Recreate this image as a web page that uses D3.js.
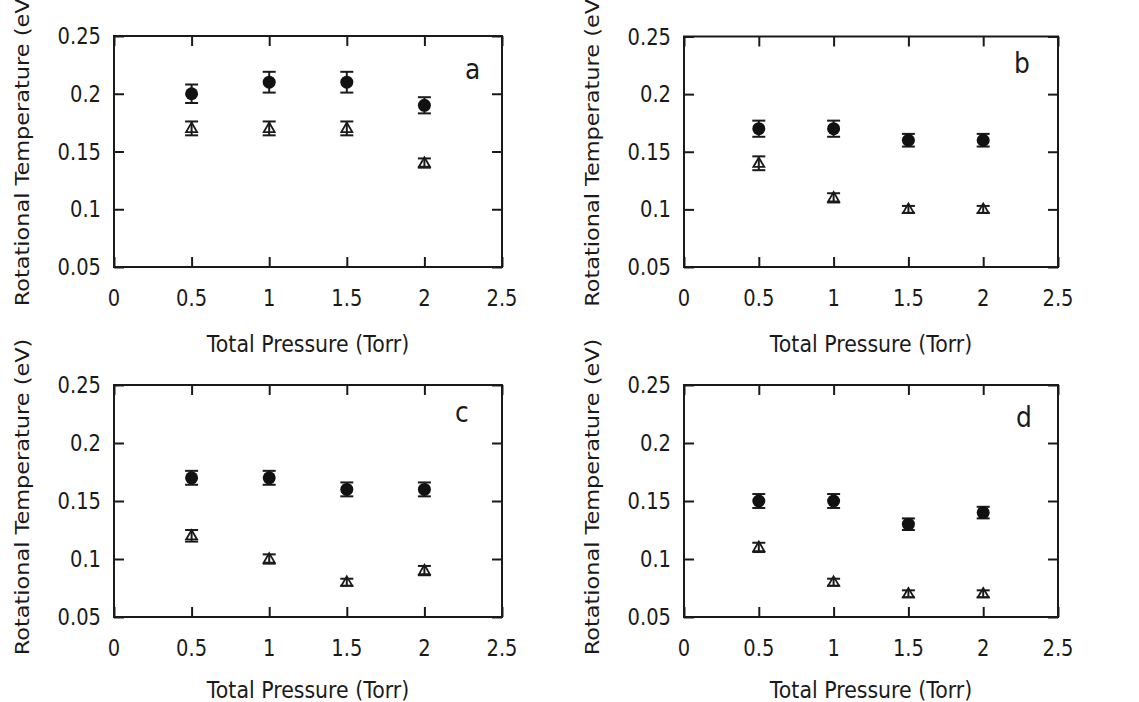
<!DOCTYPE html>
<html>
<head>
<meta charset="utf-8">
<script src="https://cdn.jsdelivr.net/npm/d3@7"></script>
<style>
  html, body { margin: 0; padding: 0; background: #fff; }
  svg { display: block; }
  text { font-family: "DejaVu Sans", Verdana, sans-serif; fill: #1a1a1a; }
</style>
</head>
<body>
<svg id="chart" width="1139" height="702"></svg>
<script>
// ---------------- data ----------------
const pressure = [0.5, 1, 1.5, 2];
const xTickValues = [0, 0.5, 1, 1.5, 2, 2.5];
const yTickValues = [0.05, 0.1, 0.15, 0.2, 0.25];
const panelLabels = ["a", "b", "c", "d"];
const xTitle = "Total Pressure (Torr)";
const yTitle = "Rotational Temperature (eV)";

const circA = [0.20, 0.21, 0.21, 0.19];
const circAErr = [0.008, 0.009, 0.009, 0.007];
const triA = [0.17, 0.17, 0.17, 0.14];
const triAErr = [0.006, 0.006, 0.006, 0.004];

const circB = [0.17, 0.17, 0.16, 0.16];
const circBErr = [0.007, 0.007, 0.0055, 0.0055];
const triB = [0.14, 0.11, 0.10, 0.10];
const triBErr = [0.006, 0.004, 0.003, 0.003];

const circC = [0.17, 0.17, 0.16, 0.16];
const circCErr = [0.006, 0.006, 0.006, 0.006];
const triC = [0.12, 0.10, 0.08, 0.09];
const triCErr = [0.005, 0.004, 0.003, 0.004];

const circD = [0.15, 0.15, 0.13, 0.14];
const circDErr = [0.006, 0.006, 0.005, 0.005];
const triD = [0.11, 0.08, 0.07, 0.07];
const triDErr = [0.004, 0.003, 0.003, 0.003];

const seriesByPanel = [
  { circ: circA, circErr: circAErr, tri: triA, triErr: triAErr },
  { circ: circB, circErr: circBErr, tri: triB, triErr: triBErr },
  { circ: circC, circErr: circCErr, tri: triC, triErr: triCErr },
  { circ: circD, circErr: circDErr, tri: triD, triErr: triDErr }
];

// ---------------- layout ----------------
const layout = [
  { left: 114, right: 502, top: 36, bottom: 267, lx: 37, ly: 43, tx: 76 },
  { left: 684, right: 1058, top: 36.5, bottom: 267, lx: 44, ly: 36, tx: 76 },
  { left: 114, right: 502, top: 385, bottom: 617, lx: 47, ly: 37, tx: 72 },
  { left: 684, right: 1058, top: 385, bottom: 617, lx: 42, ly: 42, tx: 72 }
];
const STRETCH = 1.15;
const ink = "#1a1a1a";

const svg = d3.select("#chart");

function stretchedText(g, x, y, str, size, opts = {}) {
  const t = g.append("text")
    .attr("transform", `translate(${x},${y}) scale(1,${STRETCH})` + (opts.rotate ? " rotate(-90)" : ""))
    .attr("font-size", size)
    .attr("text-anchor", opts.anchor || "middle")
    .attr("dominant-baseline", opts.baseline || "auto")
    .text(str);
  return t;
}

layout.forEach((L, i) => {
  const S = seriesByPanel[i];
  const g = svg.append("g");
  const x = d3.scaleLinear().domain([0, 2.5]).range([L.left, L.right]);
  const y = d3.scaleLinear().domain([0.05, 0.25]).range([L.bottom, L.top]);

  // inward ticks on all four sides
  const tick = 10;
  const axB = g.append("g").attr("transform", `translate(0,${L.bottom})`)
    .call(d3.axisBottom(x).tickValues(xTickValues).tickSize(-tick).tickSizeOuter(0).tickFormat(""));
  const axT = g.append("g").attr("transform", `translate(0,${L.top})`)
    .call(d3.axisTop(x).tickValues(xTickValues).tickSize(-tick).tickSizeOuter(0).tickFormat(""));
  const axL = g.append("g").attr("transform", `translate(${L.left},0)`)
    .call(d3.axisLeft(y).tickValues(yTickValues).tickSize(-tick).tickSizeOuter(0).tickFormat(""));
  const axR = g.append("g").attr("transform", `translate(${L.right},0)`)
    .call(d3.axisRight(y).tickValues(yTickValues).tickSize(-tick).tickSizeOuter(0).tickFormat(""));
  [axB, axT, axL, axR].forEach(a => {
    a.select(".domain").remove();
    a.selectAll("line").attr("stroke", ink).attr("stroke-width", 2);
    a.selectAll("text").remove();
  });

  // frame
  g.append("rect")
    .attr("x", L.left).attr("y", L.top)
    .attr("width", L.right - L.left).attr("height", L.bottom - L.top)
    .attr("fill", "none").attr("stroke", ink).attr("stroke-width", 2);

  // tick labels
  xTickValues.forEach(v => {
    stretchedText(g, x(v), L.bottom + 31, String(v), 19.5, { baseline: "central" });
  });
  yTickValues.forEach(v => {
    stretchedText(g, L.left - 13, y(v), String(v), 19.5, { anchor: "end", baseline: "central" });
  });

  // axis titles
  stretchedText(g, (L.left + L.right) / 2, L.bottom + L.tx, xTitle, 20.5, { baseline: "central" });
  stretchedText(g, L.left - 92, L.top + 112, yTitle, 19.5, { rotate: true, baseline: "central" });

  // panel letter
  stretchedText(g, L.right - L.lx, L.top + L.ly, panelLabels[i], 25, { anchor: "start" });

  // error bars + markers
  const cap = 6.5;
  function errBars(vals, errs) {
    const eg = g.append("g").attr("stroke", ink).attr("stroke-width", 2).attr("fill", "none");
    pressure.forEach((p, k) => {
      const cx = x(p), y1 = y(vals[k] + errs[k]), y0 = y(vals[k] - errs[k]);
      eg.append("line").attr("x1", cx).attr("x2", cx).attr("y1", y1).attr("y2", y0);
      eg.append("line").attr("x1", cx - cap).attr("x2", cx + cap).attr("y1", y1).attr("y2", y1);
      eg.append("line").attr("x1", cx - cap).attr("x2", cx + cap).attr("y1", y0).attr("y2", y0);
    });
  }
  // triangles
  errBars(S.tri, S.triErr);
  const triSym = d3.symbol().type(d3.symbolTriangle).size(52);
  g.append("g").selectAll("path").data(pressure).join("path")
    .attr("d", triSym)
    .attr("transform", (p, k) => `translate(${x(p)},${y(S.tri[k]) + 0.5})`)
    .attr("fill", "none").attr("stroke", ink).attr("stroke-width", 1.8);

  // circles
  errBars(S.circ, S.circErr);
  g.append("g").selectAll("circle").data(pressure).join("circle")
    .attr("cx", p => x(p))
    .attr("cy", (p, k) => y(S.circ[k]))
    .attr("r", 6.5)
    .attr("fill", "#111");
});
</script>
</body>
</html>
